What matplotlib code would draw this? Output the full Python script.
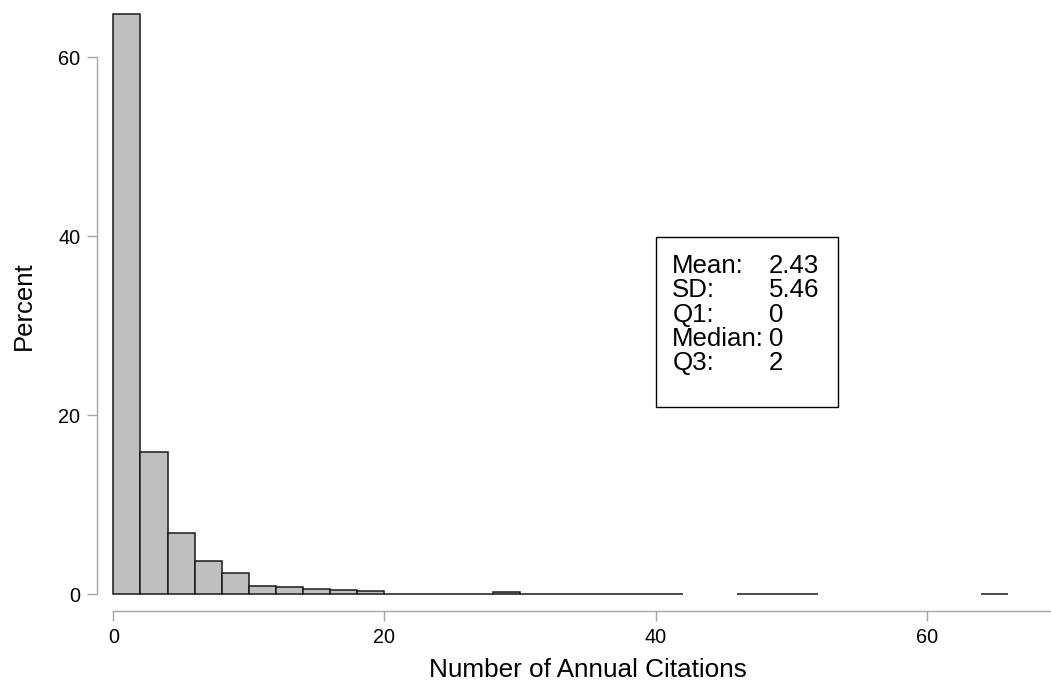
import matplotlib
matplotlib.use('Agg')
import matplotlib.pyplot as plt
import matplotlib.patches as patches
import numpy as np

plt.rcParams['font.family'] = ['Liberation Sans', 'DejaVu Sans']

# histogram bins (width 2) and percent per bin
bin_left = list(range(0, 66, 2))
percent = [64.8, 15.9, 6.9, 3.73, 2.39, 0.93, 0.78, 0.6, 0.45, 0.37,
           0.08, 0.06, 0.04, 0.06, 0.2, 0.06, 0.06, 0.06, 0.03, 0.02,
           0.05, 0, 0, 0.03, 0.03, 0.02, 0, 0, 0, 0, 0, 0, 0.02]

x_ticks = [0, 20, 40, 60]
y_ticks = [0, 20, 40, 60]

stat_labels = ['Mean:', 'SD:', 'Q1:', 'Median:', 'Q3:']
stat_values = ['2.43', '5.46', '0', '0', '2']

W, H = 1051, 681
fig = plt.figure(figsize=(W / 100, H / 100), dpi=100)
ax = fig.add_axes([97 / W, (H - 611) / H, (W - 97) / W, 611 / H])

# draw bars only where there is a value
xs = [b for b, p in zip(bin_left, percent) if p > 0]
hs = [p for p in percent if p > 0]
ax.bar(xs, hs, width=2, align='edge', color='#bfbfbf',
       edgecolor='#1a1a1a', linewidth=1.1)

ax.set_xlim(-1.2, 69.15)
ax.set_ylim(-1.87, 66.4)

axis_gray = '#a6a6a6'
for s in ['top', 'right']:
    ax.spines[s].set_visible(False)
ax.spines['left'].set_bounds(0, 60)
ax.spines['bottom'].set_bounds(0, 69.15)
for s in ['left', 'bottom']:
    ax.spines[s].set_color(axis_gray)
    ax.spines[s].set_linewidth(1.0)

ax.set_xticks(x_ticks)
ax.set_yticks(y_ticks)
ax.tick_params(axis='both', direction='out', length=7.5, width=1.0,
               color=axis_gray, labelsize=14.3, pad=4.5)

ax.set_xlabel('Number of Annual Citations', fontsize=18.8)
ax.xaxis.label.set_va('baseline')
ax.xaxis.set_label_coords(0.515, -0.108)
ax.set_ylabel('Percent', fontsize=18.5)
ax.yaxis.label.set_va('baseline')
ax.yaxis.set_label_coords(-0.0695, 0.5)

# summary statistics box
box = patches.Rectangle((0.5855, 0.3339), 0.191, 0.2782, transform=ax.transAxes,
                        facecolor='white', edgecolor='black', linewidth=1.0)
ax.add_patch(box)
baselines = [0.5527, 0.5134, 0.4735, 0.4342, 0.3944]
for lab, val, yb in zip(stat_labels, stat_values, baselines):
    ax.text(0.603, yb, lab, transform=ax.transAxes, fontsize=18.6, va='baseline', ha='left')
    ax.text(0.7045, yb, val, transform=ax.transAxes, fontsize=18.6, va='baseline', ha='left')

fig.savefig('out.png', dpi=100)
